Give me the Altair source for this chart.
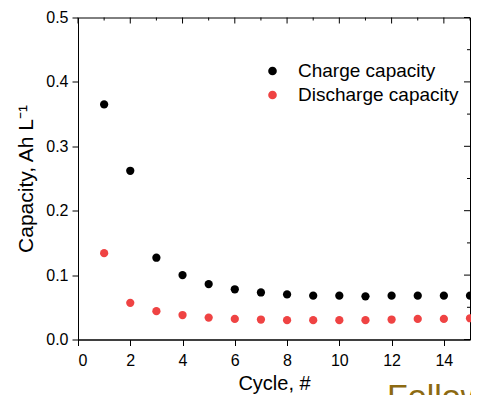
import altair as alt
import pandas as pd

cycles = list(range(1, 16))
charge = [0.365, 0.262, 0.127, 0.100, 0.086, 0.078, 0.073, 0.070, 0.068, 0.068, 0.067, 0.068, 0.068, 0.068, 0.068]
discharge = [0.134, 0.057, 0.044, 0.038, 0.034, 0.032, 0.031, 0.030, 0.030, 0.030, 0.030, 0.031, 0.032, 0.032, 0.033]
series_names = ["Charge capacity", "Discharge capacity"]
series_colors = ["#000000", "#EF4343"]
x_ticks = list(range(0, 16))
x_major = [0, 2, 4, 6, 8, 10, 12, 14]
x_minor = [1, 3, 5, 7, 9, 11, 13, 15]
y_ticks = [0.0, 0.05, 0.1, 0.15, 0.2, 0.25, 0.3, 0.35, 0.4, 0.45, 0.5]
y_major = [0.0, 0.1, 0.2, 0.3, 0.4, 0.5]
y_minor = [0.05, 0.15, 0.25, 0.35, 0.45]
x_title = "Cycle, #"
y_title = "Capacity, Ah L⁻¹"
footer_text = "Follow"

FONT = "Liberation Sans, Arial, sans-serif"
W, H = 392, 322

df = pd.DataFrame({
    "cycle": cycles * 2,
    "capacity": charge + discharge,
    "series": [series_names[0]] * len(cycles) + [series_names[1]] * len(cycles),
})

xs = alt.Scale(domain=[0, 15], nice=False)
ys = alt.Scale(domain=[0, 0.5], nice=False)

points = alt.Chart(df).mark_circle(size=68, opacity=1).encode(
    x=alt.X("cycle:Q", scale=xs, title=x_title,
            axis=alt.Axis(values=x_ticks, grid=False, domainColor="black", tickColor="black",
                          tickSize={"condition": {"test": "datum.value % 2 === 0", "value": 6}, "value": 3},
                          labelExpr="datum.value % 2 === 0 ? datum.label : ''",
                          labelFontSize=16, labelFont=FONT, labelColor="black", labelPadding=7,
                          titleFontSize=20, titleFont=FONT, titleFontWeight="normal",
                          titleColor="black", titlePadding=5)),
    y=alt.Y("capacity:Q", scale=ys, title=y_title,
            axis=alt.Axis(values=y_ticks, grid=False, domainColor="black", tickColor="black",
                          tickSize={"condition": {"test": "round(datum.value * 100) % 10 === 0", "value": 6}, "value": 3},
                          labelExpr="round(datum.value * 100) % 10 === 0 ? format(datum.value, '.1f') : ''",
                          labelFontSize=16, labelFont=FONT, labelColor="black", labelPadding=4,
                          titleFontSize=21, titleFont=FONT, titleFontWeight="normal",
                          titleColor="black", titlePadding=9)),
    color=alt.Color("series:N", scale=alt.Scale(domain=series_names, range=series_colors),
                    legend=alt.Legend(title=None, orient="none", legendX=185, legendY=44,
                                      symbolType="circle", symbolSize=75, symbolStrokeWidth=0,
                                      labelFontSize=19, labelFont=FONT, labelColor="black",
                                      labelLimit=400, labelOffset=16, rowPadding=4, padding=0)),
)

top_major = alt.Chart(pd.DataFrame({"t": x_major})).mark_rule(color="black").encode(
    x=alt.X("t:Q", scale=xs), y=alt.value(0), y2=alt.value(6))
top_minor = alt.Chart(pd.DataFrame({"t": x_minor})).mark_rule(color="black").encode(
    x=alt.X("t:Q", scale=xs), y=alt.value(0), y2=alt.value(3))
right_major = alt.Chart(pd.DataFrame({"v": y_major})).mark_rule(color="black").encode(
    y=alt.Y("v:Q", scale=ys), x=alt.value(W), x2=alt.value(W - 6))
right_minor = alt.Chart(pd.DataFrame({"v": y_minor})).mark_rule(color="black").encode(
    y=alt.Y("v:Q", scale=ys), x=alt.value(W), x2=alt.value(W - 3))

footer = alt.Chart(pd.DataFrame({"s": [footer_text]})).mark_text(
    align="left", baseline="alphabetic", fontSize=34, font=FONT, color="#8C6A12"
).encode(text="s:N", x=alt.value(309), y=alt.value(390))

chart = alt.layer(points, top_major, top_minor, right_major, right_minor, footer).properties(
    width=W, height=H,
    autosize=alt.AutoSizeParams(type="none"),
    padding={"left": 70, "top": 9.5, "right": 1, "bottom": 55.5},
).configure_view(stroke="black", strokeWidth=1).configure_axis(domainWidth=1, tickWidth=1)

chart.save("out.html", embed_options={"renderer": "svg", "actions": False})
